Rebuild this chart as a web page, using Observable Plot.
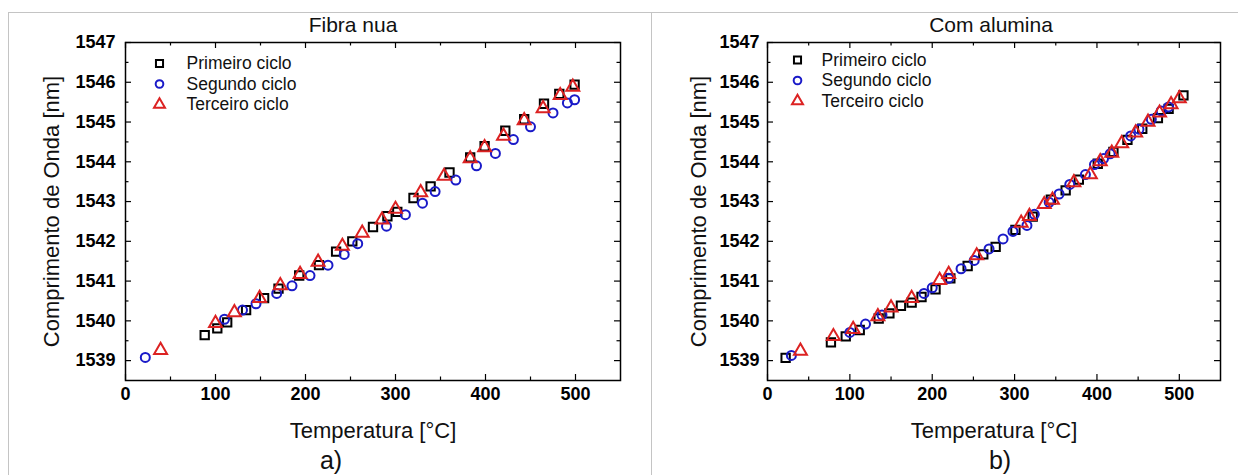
<!DOCTYPE html>
<html>
<head>
<meta charset="utf-8">
<script src="https://cdn.jsdelivr.net/npm/d3@7"></script>
<script src="https://cdn.jsdelivr.net/npm/@observablehq/plot@0.6"></script>
<style>
  body { margin: 0; background: #fff; }
  #fig { position: relative; width: 1238px; height: 475px; overflow: hidden; background: #fff;
         font-family: "Liberation Sans", Arial, sans-serif; }
  .rule { position: absolute; background: #c4c4c4; }
  .panel { position: absolute; top: 0; }
</style>
</head>
<body>
<div id="fig">
  <div class="rule" style="left:8px;top:12px;width:1230px;height:1px"></div>
  <div class="rule" style="left:8px;top:12px;width:1px;height:463px"></div>
  <div class="rule" style="left:651px;top:12px;width:1px;height:463px"></div>
</div>
<script>
// Temperature (°C) and Bragg wavelength (nm) for three heating cycles
// a) bare fibre
const nuaPrimeiroT = [88, 102, 113, 134, 154, 170, 193, 215, 234, 252, 275, 291, 302, 320, 339, 360, 383, 399, 422, 443, 465, 482, 499];
const nuaPrimeiroL = [1539.64, 1539.81, 1539.96, 1540.27, 1540.57, 1540.81, 1541.14, 1541.40, 1541.74, 1542.00, 1542.36, 1542.63, 1542.74, 1543.09, 1543.38, 1543.73, 1544.11, 1544.39, 1544.78, 1545.07, 1545.46, 1545.71, 1545.94];
const nuaSegundoT = [22, 110, 130, 145, 168, 185, 205, 225, 243, 258, 290, 311, 330, 344, 367, 390, 411, 431, 450, 475, 491, 499];
const nuaSegundoL = [1539.08, 1540.04, 1540.27, 1540.43, 1540.69, 1540.88, 1541.14, 1541.40, 1541.67, 1541.94, 1542.38, 1542.67, 1542.96, 1543.25, 1543.54, 1543.90, 1544.21, 1544.56, 1544.88, 1545.23, 1545.48, 1545.56];
const nuaTerceiroT = [39, 100, 121, 149, 172, 194, 214, 241, 263, 285, 300, 328, 354, 383, 399, 420, 443, 464, 483, 497];
const nuaTerceiroL = [1539.26, 1539.94, 1540.21, 1540.57, 1540.89, 1541.17, 1541.48, 1541.88, 1542.21, 1542.54, 1542.81, 1543.23, 1543.64, 1544.08, 1544.36, 1544.65, 1545.04, 1545.34, 1545.67, 1545.88];

// b) fibre with alumina coating
const aluPrimeiroT = [22, 77, 95, 112, 135, 148, 162, 175, 187, 204, 222, 243, 262, 277, 301, 322, 344, 362, 378, 401, 420, 437, 455, 474, 487, 505];
const aluPrimeiroL = [1539.07, 1539.46, 1539.61, 1539.77, 1540.06, 1540.19, 1540.38, 1540.46, 1540.60, 1540.79, 1541.07, 1541.38, 1541.67, 1541.86, 1542.29, 1542.62, 1543.05, 1543.28, 1543.55, 1543.95, 1544.25, 1544.55, 1544.83, 1545.10, 1545.33, 1545.67];
const aluSegundoT = [29, 100, 119, 139, 190, 200, 220, 235, 251, 269, 286, 298, 315, 324, 342, 354, 367, 386, 397, 408, 416, 441, 451, 466, 478, 487];
const aluSegundoL = [1539.13, 1539.71, 1539.92, 1540.15, 1540.69, 1540.83, 1541.07, 1541.31, 1541.52, 1541.81, 1542.06, 1542.25, 1542.40, 1542.68, 1542.98, 1543.19, 1543.43, 1543.68, 1543.93, 1544.08, 1544.20, 1544.65, 1544.82, 1545.07, 1545.28, 1545.38];
const aluTerceiroT = [40, 80, 104, 134, 150, 175, 209, 220, 254, 308, 318, 336, 346, 372, 392, 404, 418, 430, 447, 462, 476, 490, 500];
const aluTerceiroL = [1539.24, 1539.61, 1539.79, 1540.11, 1540.33, 1540.57, 1541.02, 1541.17, 1541.64, 1542.46, 1542.63, 1542.93, 1543.04, 1543.48, 1543.68, 1544.01, 1544.22, 1544.46, 1544.73, 1545.00, 1545.23, 1545.44, 1545.59];

const cycleNames = ["Primeiro ciclo", "Segundo ciclo", "Terceiro ciclo"];
const panelTitles = ["Fibra nua", "Com alumina"];
const panelTags = ["a)", "b)"];
const xLabel = "Temperatura [°C]";
const yLabel = "Comprimento de Onda [nm]";

const xMajor = [0, 100, 200, 300, 400, 500];
const xMinor = [50, 150, 250, 350, 450];
const yMajor = [1539, 1540, 1541, 1542, 1543, 1544, 1545, 1546, 1547];
const yMinor = [1539.5, 1540.5, 1541.5, 1542.5, 1543.5, 1544.5, 1545.5, 1546.5];

const cycleStyles = [
  {symbol: "square",   r: 4.7, stroke: "#000000"},
  {symbol: "circle",   r: 4.5, stroke: "#1a1ac8"},
  {symbol: "triangle", r: 4.8, stroke: "#dc2222"}
];

const rows = (T, L) => T.map((t, i) => ({t, w: L[i]}));

function panel(o) {
  const mt = 42, mb = 95, height = 475;
  const fw = o.width - o.marginLeft - o.marginRight;
  const fh = height - mt - mb;
  const marks = [];

  // inward ticks on all four sides
  const tickStyle = {stroke: "#000", strokeWidth: 1.2};
  for (const [vals, len] of [[xMajor, 6], [xMinor, 3.5]]) {
    marks.push(Plot.tickX(vals, {x: d => d, insetTop: fh - len, ...tickStyle}));
    marks.push(Plot.tickX(vals, {x: d => d, insetBottom: fh - len, ...tickStyle}));
  }
  for (const [vals, len] of [[yMajor, 6], [yMinor, 3.5]]) {
    marks.push(Plot.tickY(vals, {y: d => d, insetRight: fw - len, ...tickStyle}));
    marks.push(Plot.tickY(vals, {y: d => d, insetLeft: fw - len, ...tickStyle}));
  }

  // tick labels
  marks.push(Plot.axisX(xMajor, {anchor: "bottom", tickSize: 0, tickPadding: 7, fontSize: 18, fontWeight: "bold", label: null, tickFormat: d => String(d)}));
  marks.push(Plot.axisY(yMajor, {anchor: "left", tickSize: 0, tickPadding: o.yPad, fontSize: 18, fontWeight: "bold", label: null, tickFormat: d => String(d)}));

  // data series: squares, circles, triangles
  o.series.forEach(([T, L], i) => {
    const s = cycleStyles[i];
    marks.push(Plot.dot(rows(T, L), {x: "t", y: "w", symbol: s.symbol, r: s.r, stroke: s.stroke, strokeWidth: 2, fill: "none"}));
  });

  marks.push(Plot.frame({stroke: "#000", strokeWidth: 1.5}));

  // legend
  cycleNames.forEach((name, i) => {
    const s = cycleStyles[i];
    const dy = o.legendDy + i * o.legendGap;
    marks.push(Plot.dot([name], {frameAnchor: "top-left", dx: o.legendDx, dy, symbol: s.symbol, r: s.r * 0.85, stroke: s.stroke, strokeWidth: 2, fill: "none"}));
    marks.push(Plot.text([name], {text: d => d, frameAnchor: "top-left", dx: o.legendTextDx, dy, textAnchor: "start", lineAnchor: "middle", fontSize: 17.5, fill: "#111"}));
  });

  // titles and axis labels
  marks.push(Plot.text([o.title], {text: d => d, frameAnchor: "top", dx: o.titleDx, dy: -17, textAnchor: "middle", lineAnchor: "middle", fontSize: 21, fill: "#111"}));
  marks.push(Plot.text([xLabel], {text: d => d, frameAnchor: "bottom", dy: 50, textAnchor: "middle", lineAnchor: "middle", fontSize: 22, fill: "#111"}));
  marks.push(Plot.text([yLabel], {text: d => d, frameAnchor: "left", dx: -o.yLabelOffset, rotate: -90, textAnchor: "middle", lineAnchor: "middle", fontSize: 22, fill: "#111"}));
  marks.push(Plot.text([o.tag], {text: d => d, frameAnchor: "bottom", dx: o.tagDx, dy: 80, textAnchor: "middle", lineAnchor: "middle", fontSize: 25, fill: "#111"}));

  const svg = Plot.plot({
    width: o.width,
    height,
    marginTop: mt,
    marginBottom: mb,
    marginLeft: o.marginLeft,
    marginRight: o.marginRight,
    x: {domain: [0, 550]},
    y: {domain: [1538.5, 1547]},
    style: {fontFamily: "'Liberation Sans', Arial, sans-serif", background: "transparent", overflow: "visible", color: "#000"},
    marks
  });
  svg.classList.add("panel");
  svg.style.left = o.left + "px";
  svg.style.maxWidth = "none";
  return svg;
}

const fig = document.getElementById("fig");
fig.appendChild(panel({
  left: 0, width: 651, marginLeft: 125, marginRight: 31,
  title: panelTitles[0], titleDx: -20, tag: panelTags[0], tagDx: -42,
  yPad: 10, yLabelOffset: 74,
  legendDx: 34, legendDy: 21, legendGap: 20.5, legendTextDx: 61,
  series: [[nuaPrimeiroT, nuaPrimeiroL], [nuaSegundoT, nuaSegundoL], [nuaTerceiroT, nuaTerceiroL]]
}));
fig.appendChild(panel({
  left: 652, width: 586, marginLeft: 115, marginRight: 18,
  title: panelTitles[1], titleDx: -3, tag: panelTags[1], tagDx: 6,
  yPad: 8, yLabelOffset: 69,
  legendDx: 30, legendDy: 17.5, legendGap: 20.5, legendTextDx: 54,
  series: [[aluPrimeiroT, aluPrimeiroL], [aluSegundoT, aluSegundoL], [aluTerceiroT, aluTerceiroL]]
}));
</script>
</body>
</html>
